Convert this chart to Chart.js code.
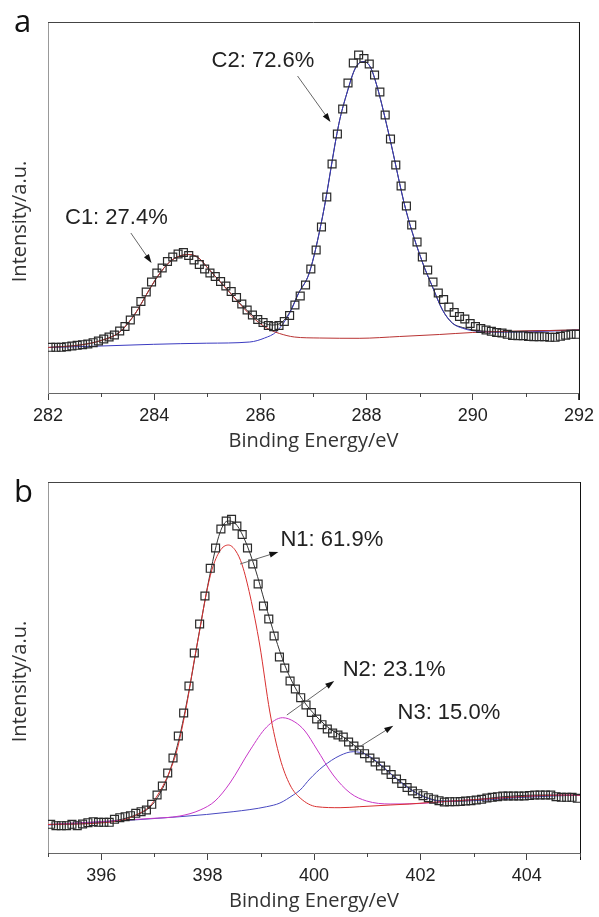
<!DOCTYPE html>
<html lang="en">
<head>
  <meta charset="UTF-8" />
  <title>XPS C 1s / N 1s fits</title>
  <script src="https://cdn.jsdelivr.net/npm/chart.js"></script>
  <style>
    body {
      margin: 0;
      background: #fff;
      width: 599px;
      height: 917px;
      overflow: hidden;
      position: relative;
    }
    canvas {
      position: absolute;
      left: 0;
    }
    #chartA { top: 0; }
    #chartB { top: 460px; }
  </style>
</head>
<body>
  <canvas id="chartA" width="599" height="460"></canvas>
  <canvas id="chartB" width="599" height="460"></canvas>

  <script>
    // ---- panel a : C 1s ----
    const cEnergy = [
      282.05, 282.15, 282.25, 282.35, 282.45, 282.55, 282.65, 282.75, 282.85, 282.95,
      283.05, 283.15, 283.25, 283.35, 283.45, 283.55, 283.65, 283.75, 283.85, 283.95,
      284.05, 284.15, 284.25, 284.35, 284.45, 284.55, 284.65, 284.75, 284.85, 284.95,
      285.05, 285.15, 285.25, 285.35, 285.45, 285.55, 285.65, 285.75, 285.85, 285.95,
      286.05, 286.15, 286.25, 286.35, 286.45, 286.55, 286.65, 286.75, 286.85, 286.95,
      287.05, 287.15, 287.25, 287.35, 287.45, 287.55, 287.65, 287.75, 287.85, 287.95,
      288.05, 288.15, 288.25, 288.35, 288.45, 288.55, 288.65, 288.75, 288.85, 288.95,
      289.05, 289.15, 289.25, 289.35, 289.45, 289.55, 289.65, 289.75, 289.85, 289.95,
      290.05, 290.15, 290.25, 290.35, 290.45, 290.55, 290.65, 290.75, 290.85, 290.95,
      291.05, 291.15, 291.25, 291.35, 291.45, 291.55, 291.65, 291.75, 291.85, 291.95
    ];
    const cCounts = [
      45.7, 45.7, 45.7, 46.3, 47.0, 47.7, 48.3, 49.0, 50.3, 52.0,
      54.0, 56.0, 58.0, 62.0, 66.5, 73.0, 82.0, 91.5, 101.0, 111.0,
      120.0, 125.0, 131.5, 136.0, 139.0, 140.5, 137.5, 133.0, 128.5, 124.0,
      120.0, 116.5, 111.5, 107.0, 101.5, 95.5, 89.0, 83.0, 78.0, 73.5,
      70.5, 67.5, 66.3, 67.5, 71.5, 77.5, 88.0, 97.0, 108.0, 124.0,
      143.0, 166.0, 196.0, 229.0, 259.0, 284.0, 310.0, 330.0, 338.0, 334.5,
      329.0, 318.0, 301.0, 278.0, 254.0, 228.0, 207.0, 187.0, 168.0, 151.0,
      136.0, 123.0, 111.0, 100.0, 93.5, 86.0, 80.5, 76.5, 74.0, 69.5,
      66.5, 64.5, 63.0, 61.7, 60.5, 60.0, 58.7, 57.5, 57.3, 57.3,
      56.5, 56.3, 56.3, 56.3, 55.7, 55.7, 56.7, 57.8, 58.7, 58.7
    ];
    // C1 component (on background)
    const c1E = [282.00, 282.60, 283.00, 283.35, 283.65, 283.86, 284.07, 284.29, 284.48, 284.67,
                 284.86, 285.00, 285.23, 285.45, 285.70, 285.98, 286.17, 286.36, 286.64, 287.11,
                 287.86, 288.62, 289.37, 289.99, 290.50, 291.25, 292.00];
    const c1I = [45.5, 48.0, 52.5, 61.0, 80.0, 99.0, 117.0, 131.0, 137.0, 138.5,
                 134.0, 125.5, 112.0, 99.0, 84.0, 70.0, 63.5, 59.5, 56.0, 55.0,
                 54.7, 56.5, 58.5, 60.5, 61.5, 62.3, 63.0];
    // C2 component (on background)
    const c2E = [282.00, 283.00, 283.99, 284.99, 285.80, 286.08, 286.30, 286.55, 286.72, 286.92,
                 287.17, 287.48, 287.63, 287.79, 287.94, 288.07, 288.20, 288.43, 288.74, 289.05,
                 289.24, 289.43, 289.62, 289.81, 290.00, 290.50, 291.12, 292.00];
    const c2I = [45.5, 47.0, 48.7, 49.8, 51.0, 55.0, 61.3, 79.7, 99.7, 120.0,
                 176.3, 269.7, 300.0, 325.0, 331.5, 326.0, 306.0, 256.3, 183.0, 131.0,
                 106.3, 83.0, 69.7, 64.7, 62.3, 60.7, 61.3, 63.0];
    // envelope (lies on the components except in the valley and the tail)
    const cSumE = [282.00, 282.60, 283.00, 283.35, 283.65, 283.86, 284.07, 284.29, 284.48, 284.67,
                   284.86, 285.00, 285.23, 285.45, 285.70, 285.98, 286.21, 286.40, 286.55, 286.72,
                   286.92, 287.17, 287.48, 287.63, 287.79, 287.94, 288.07, 288.20, 288.43, 288.74,
                   289.05, 289.24, 289.43, 289.62, 289.81, 290.00, 290.50, 291.25, 292.00];
    const cSumI = [45.5, 48.0, 52.5, 61.0, 80.0, 99.0, 117.0, 131.0, 137.0, 138.5,
                   134.0, 125.5, 112.0, 99.0, 85.0, 72.5, 68.0, 70.5, 80.5, 100.0,
                   120.0, 176.3, 269.7, 300.0, 325.0, 331.5, 326.0, 306.0, 256.3, 183.0,
                   131.0, 106.3, 83.0, 69.7, 65.5, 63.0, 61.5, 62.3, 63.0];

    // ---- panel b : N 1s ----
    const nEnergy = [
      395.05, 395.15, 395.25, 395.35, 395.45, 395.55, 395.65, 395.75, 395.85, 395.95,
      396.05, 396.15, 396.25, 396.35, 396.45, 396.55, 396.65, 396.75, 396.85, 396.95,
      397.05, 397.15, 397.25, 397.35, 397.45, 397.55, 397.65, 397.75, 397.85, 397.95,
      398.05, 398.15, 398.25, 398.35, 398.45, 398.55, 398.65, 398.75, 398.85, 398.95,
      399.05, 399.15, 399.25, 399.35, 399.45, 399.55, 399.65, 399.75, 399.85, 399.95,
      400.05, 400.15, 400.25, 400.35, 400.45, 400.55, 400.65, 400.75, 400.85, 400.95,
      401.05, 401.15, 401.25, 401.35, 401.45, 401.55, 401.65, 401.75, 401.85, 401.95,
      402.05, 402.15, 402.25, 402.35, 402.45, 402.55, 402.65, 402.75, 402.85, 402.95,
      403.05, 403.15, 403.25, 403.35, 403.45, 403.55, 403.65, 403.75, 403.85, 403.95,
      404.05, 404.15, 404.25, 404.35, 404.45, 404.55, 404.65, 404.75, 404.85, 404.95
    ];
    const nCounts = [
      28.7, 27.3, 27.3, 27.3, 28.7, 27.3, 29.0, 30.3, 31.3, 30.7,
      30.7, 30.7, 33.7, 35.3, 36.3, 37.3, 39.7, 41.3, 43.0, 48.7,
      58.0, 67.0, 80.0, 95.0, 117.0, 140.0, 167.0, 200.0, 229.0, 257.0,
      284.7, 305.0, 324.0, 332.0, 333.7, 327.0, 318.5, 305.0, 289.0, 269.0,
      247.0, 234.0, 217.0, 196.0, 185.0, 172.0, 164.0, 155.3, 148.0, 140.5,
      134.0, 128.3, 124.0, 120.0, 118.0, 116.0, 111.0, 107.0, 103.0, 99.3,
      95.0, 91.0, 87.0, 83.0, 78.5, 74.0, 69.5, 65.5, 62.0, 59.3,
      57.3, 55.3, 53.8, 52.3, 51.0, 51.3, 51.3, 51.5, 52.0, 52.3,
      53.0, 53.7, 55.0, 55.7, 56.3, 57.0, 57.0, 57.0, 57.0, 57.0,
      57.5, 58.0, 58.0, 58.0, 58.0, 56.3, 55.7, 55.7, 55.7, 54.7
    ];
    const n1E = [395.00, 395.98, 396.41, 396.73, 396.92, 397.05, 397.16, 397.29, 397.41, 397.52,
                 397.63, 397.74, 397.86, 397.97, 398.08, 398.23, 398.39, 398.53, 398.65, 398.80,
                 398.98, 399.17, 399.36, 399.55, 399.74, 400.05, 400.49, 400.86, 401.43, 401.80,
                 402.12, 402.74, 403.50, 404.25, 405.00];
    const n1I = [28.5, 30.0, 33.0, 40.0, 47.0, 57.0, 67.0, 82.0, 100.0, 125.0,
                 155.0, 190.0, 225.0, 258.0, 283.0, 302.0, 308.0, 302.0, 288.0, 257.0,
                 208.0, 141.0, 95.0, 68.0, 55.0, 46.3, 45.3, 46.3, 48.0, 49.0,
                 50.3, 52.5, 55.0, 57.5, 58.0];
    const n2E = [395.00, 396.92, 397.48, 397.86, 398.14, 398.42, 398.80, 399.11, 399.41, 399.64,
                 399.83, 400.05, 400.36, 400.68, 400.99, 401.43, 401.99, 402.74, 403.50, 404.25,
                 405.00];
    const n2I = [28.5, 34.5, 37.0, 43.0, 52.0, 70.0, 103.0, 126.0, 135.3, 131.0,
                 122.0, 104.0, 78.0, 60.0, 52.0, 49.0, 49.5, 52.5, 55.0, 57.5,
                 58.0];
    const n3E = [395.00, 395.98, 397.48, 398.48, 399.11, 399.36, 399.61, 399.74, 399.92, 400.17,
                 400.49, 400.74, 400.98, 401.24, 401.55, 401.87, 402.12, 402.37, 402.99, 403.87,
                 405.00];
    const n3I = [28.0, 31.0, 36.3, 41.3, 46.3, 50.0, 58.0, 63.0, 74.0, 86.5,
                 97.5, 101.3, 98.5, 89.0, 74.0, 61.5, 55.0, 52.0, 52.3, 55.5,
                 58.0];
    const nSumE = [395.00, 395.98, 396.54, 396.92, 397.11, 397.29, 397.48, 397.67, 397.86, 398.05,
                   398.23, 398.38, 398.53, 398.70, 398.89, 399.08, 399.27, 399.45, 399.64, 399.83,
                   400.02, 400.21, 400.39, 400.58, 400.77, 400.96, 401.15, 401.33, 401.52, 401.71,
                   401.90, 402.09, 402.27, 402.56, 402.93, 403.50, 404.25, 405.00];
    const nSumI = [28.5, 30.5, 36.0, 46.0, 60.0, 82.0, 118.0, 168.0, 226.0, 280.0,
                   320.0, 332.0, 329.0, 313.0, 285.0, 250.0, 216.0, 188.0, 166.0, 150.0,
                   138.0, 128.0, 121.0, 115.0, 107.0, 99.0, 92.0, 84.0, 76.0, 68.0,
                   61.0, 56.0, 53.0, 51.5, 52.5, 56.0, 58.0, 57.5];

    const cLabels = ["C1: 27.4%", "C2: 72.6%"];
    const nLabels = ["N1: 61.9%", "N2: 23.1%", "N3: 15.0%"];

    const pts = (xs, ys) => xs.map((x, i) => ({ x: x, y: ys[i] }));

    // arrows, labels, frame, minor ticks, y title and panel letter
    const decor = {
      id: "decor",
      afterDraw(chart, args, opts) {
        const { ctx, chartArea: a, scales: { x, y } } = chart;
        ctx.save();

        // top + right frame
        ctx.lineWidth = 1;
        ctx.strokeStyle = "#444";
        ctx.beginPath();
        ctx.moveTo(a.left, a.top + 0.5);
        ctx.lineTo(a.right, a.top + 0.5);
        ctx.stroke();
        ctx.strokeStyle = "#111";
        ctx.beginPath();
        ctx.moveTo(a.right + 0.5, a.top);
        ctx.lineTo(a.right + 0.5, a.bottom + 7);
        ctx.stroke();

        // minor ticks on odd values
        ctx.strokeStyle = "#444";
        x.ticks.forEach(t => {
          if (t.value % 2 !== 0) {
            const px = Math.round(x.getPixelForValue(t.value)) + 0.5;
            ctx.beginPath();
            ctx.moveTo(px, a.bottom);
            ctx.lineTo(px, a.bottom + 4);
            ctx.stroke();
          }
        });

        // arrows + labels
        opts.notes.forEach(n => {
          const x0 = x.getPixelForValue(n.from[0]), y0 = y.getPixelForValue(n.from[1]);
          const x1 = x.getPixelForValue(n.to[0]), y1 = y.getPixelForValue(n.to[1]);
          const ang = Math.atan2(y1 - y0, x1 - x0);
          ctx.strokeStyle = "#666";
          ctx.lineWidth = 1;
          ctx.beginPath();
          ctx.moveTo(x0, y0);
          ctx.lineTo(x1 - 6 * Math.cos(ang), y1 - 6 * Math.sin(ang));
          ctx.stroke();
          ctx.fillStyle = "#111";
          ctx.beginPath();
          ctx.moveTo(x1, y1);
          ctx.lineTo(x1 - 9 * Math.cos(ang) + 3 * Math.sin(ang), y1 - 9 * Math.sin(ang) - 3 * Math.cos(ang));
          ctx.lineTo(x1 - 9 * Math.cos(ang) - 3 * Math.sin(ang), y1 - 9 * Math.sin(ang) + 3 * Math.cos(ang));
          ctx.closePath();
          ctx.fill();

          ctx.font = '22px "Liberation Sans", Arial, sans-serif';
          ctx.fillStyle = "#222";
          ctx.textAlign = "left";
          ctx.textBaseline = "middle";
          ctx.fillText(n.text, x.getPixelForValue(n.at[0]), y.getPixelForValue(n.at[1]));
        });

        // y axis title (sits a little below the plot centre, as in the source figure)
        ctx.save();
        ctx.translate(20, (a.top + a.bottom) / 2 + 14);
        ctx.rotate(-Math.PI / 2);
        ctx.font = '20px "Open Sans", sans-serif';
        ctx.fillStyle = "#333";
        ctx.textAlign = "center";
        ctx.textBaseline = "middle";
        ctx.fillText("Intensity/a.u.", 0, 0);
        ctx.restore();

        // panel letter
        ctx.font = '31px "Open Sans", sans-serif';
        ctx.fillStyle = "#111";
        ctx.textAlign = "left";
        ctx.textBaseline = "alphabetic";
        ctx.fillText(opts.letter, 14, opts.letterY);
        ctx.restore();
      }
    };

    function scatterSet(data) {
      return {
        data: data, showLine: false, pointStyle: "rect", pointRadius: 5.6,
        pointBorderWidth: 1.2, pointBorderColor: "#2a2a2a", pointBackgroundColor: "rgba(0,0,0,0)",
        order: 0
      };
    }

    function lineSet(data, color, order) {
      return {
        data: data, borderColor: color, borderWidth: 1, pointRadius: 0,
        cubicInterpolationMode: "monotone", fill: false, order: order
      };
    }

    function makePanel(id, xmin, xmax, datasets, notes, letter, letterY) {
      return new Chart(document.getElementById(id), {
        type: "line",
        data: { datasets: datasets },
        plugins: [decor],
        options: {
          responsive: false,
          animation: false,
          layout: { padding: { top: 22, right: 19, left: 0, bottom: 0 } },
          plugins: {
            legend: { display: false },
            tooltip: { enabled: false },
            decor: { notes: notes, letter: letter, letterY: letterY }
          },
          scales: {
            x: {
              type: "linear",
              min: xmin,
              max: xmax,
              afterFit(s) { s.height = 67; },
              border: { display: true, color: "#666", width: 1 },
              grid: {
                drawOnChartArea: false,
                tickLength: 7,
                tickColor: c => (c.tick && c.tick.value % 2 === 0) ? "#444" : "rgba(0,0,0,0)"
              },
              ticks: {
                stepSize: 1,
                autoSkip: false,
                maxRotation: 0,
                padding: 5,
                color: "#222",
                font: { family: "Liberation Sans", size: 18 },
                callback: v => (v % 2 === 0 ? String(v) : "")
              },
              title: {
                display: true,
                text: "Binding Energy/eV",
                color: "#333",
                font: { family: "Open Sans", size: 20 },
                padding: { top: 0, bottom: 7 }
              }
            },
            y: {
              min: 0,
              max: 371,
              afterFit(s) { s.width = 48; },
              border: { display: true, color: "#999", width: 1 },
              grid: { display: false },
              ticks: { display: false },
              title: { display: false }
            }
          }
        }
      });
    }

    makePanel("chartA", 282, 292, [
      scatterSet(pts(cEnergy, cCounts)),
      lineSet(pts(c1E, c1I), "#b83232", 1),
      lineSet(pts(c2E, c2I), "#3a3ac0", 1),
      lineSet(pts(cSumE, cSumI), "#222", 3)
    ], [
      { text: cLabels[0], at: [282.32, 175], from: [283.56, 160], to: [283.95, 130] },
      { text: cLabels[1], at: [285.08, 332], from: [286.70, 317], to: [287.32, 271] }
    ], "a", 32);

    makePanel("chartB", 395, 405, [
      scatterSet(pts(nEnergy, nCounts)),
      lineSet(pts(n1E, n1I), "#d83030", 1),
      lineSet(pts(n2E, n2I), "#c838c8", 1),
      lineSet(pts(n3E, n3I), "#4848c0", 1),
      lineSet(pts(nSumE, nSumI), "#333", 3)
    ], [
      { text: nLabels[0], at: [399.37, 313], from: [398.61, 289], to: [399.33, 301] },
      { text: nLabels[1], at: [400.54, 183], from: [399.49, 138], to: [400.38, 172] },
      { text: nLabels[2], at: [401.57, 140.5], from: [400.86, 106.3], to: [401.49, 127.3] }
    ], "b", 42);
  </script>
</body>
</html>
